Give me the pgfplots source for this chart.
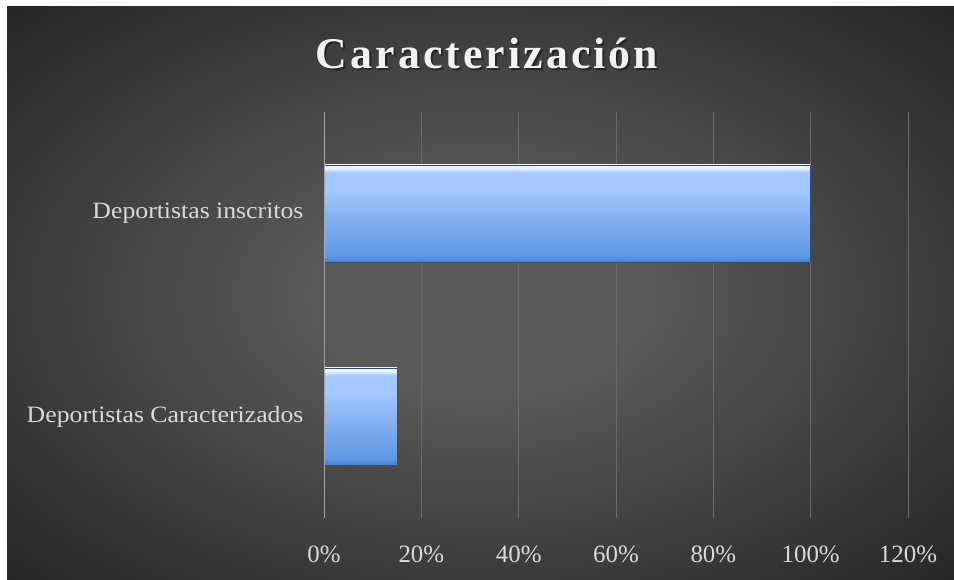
\documentclass[border=0pt]{standalone}
\usepackage{fontspec}
\setmainfont{Liberation Serif}
\newfontfamily\titlefont[LetterSpace=7]{Liberation Serif}
\newfontfamily\catfont[FakeStretch=1.1]{Liberation Serif}
\usepackage{pgfplots}
\pgfplotsset{compat=1.18}

\definecolor{bgin}{HTML}{5A5A5A}
\definecolor{bgout}{HTML}{252525}
\definecolor{lbl}{HTML}{D9D9D9}
\definecolor{gridc}{HTML}{696969}
\definecolor{axisc}{HTML}{A6A6A6}
\definecolor{barhi}{HTML}{EAF5FF}
\definecolor{bartop}{HTML}{A4C8FF}
\definecolor{barmid}{HTML}{8AB4F4}
\definecolor{barlow}{HTML}{5E98E4}
\definecolor{barbot}{HTML}{4680D0}
\definecolor{baredge}{HTML}{2E4E80}

% background: reaches the outer colour only in the corners
\pgfdeclareradialshading{slidebg}{\pgfpoint{0bp}{0bp}}{%
  color(0bp)=(bgin); color(8bp)=(bgin); color(35.5bp)=(bgout); color(50bp)=(bgout)}
% bar: bright bevel on top, darker towards the bottom
\pgfdeclareverticalshading{barshade}{100bp}{%
  color(0bp)=(barbot); color(25bp)=(barbot); color(28bp)=(barlow);
  color(50bp)=(barmid); color(62bp)=(bartop); color(71bp)=(bartop);
  color(73.5bp)=(barhi); color(75bp)=(barhi); color(100bp)=(barhi)}

\begin{document}
\begin{tikzpicture}[x=1bp,y=1bp]
\useasboundingbox (0,0) rectangle (954,580);
\fill[white] (0,0) rectangle (954,580);
\shade[shading=slidebg] (7,-4) rectangle (958,573);

% title with soft shadow
\node[text=black, opacity=0.4, font=\titlefont\bfseries\fontsize{44}{44}\selectfont] at (489,525) {Caracterización};
\node[text=white!95!black, font=\titlefont\bfseries\fontsize{44}{44}\selectfont] at (487,527) {Caracterización};

\begin{axis}[
    at={(324bp,62bp)}, anchor=south west,
    scale only axis,
    width=584bp, height=406bp,
    xmin=0, xmax=120,
    ymin=-0.5, ymax=1.5,
    xtick={0,20,40,60,80,100,120},
    xticklabels={0\%,20\%,40\%,60\%,80\%,100\%,120\%},
    ytick={0,1},
    yticklabels={Deportistas Caracterizados, Deportistas inscritos},
    major tick length=0pt,
    axis line style={draw=none},
    xmajorgrids,
    grid style={gridc, line width=0.9bp},
    xticklabel style={text=lbl, font=\fontsize{25}{25}\selectfont, yshift=-24bp},
    yticklabel style={text=lbl, font=\catfont\fontsize{23.5}{23.5}\selectfont, xshift=-17bp},
]
\addplot[xbar, bar shift=0pt, bar width=97bp, draw=baredge, line width=0.7bp, shading=barshade]
  coordinates {(100,1)};
\addplot[xbar, bar shift=0pt, bar width=97bp, draw=baredge, line width=0.7bp, shading=barshade]
  coordinates {(15,0)};
\draw[axisc, line width=1.3bp] (axis cs:0,-0.5) -- (axis cs:0,1.5);
\end{axis}
\end{tikzpicture}
\end{document}
